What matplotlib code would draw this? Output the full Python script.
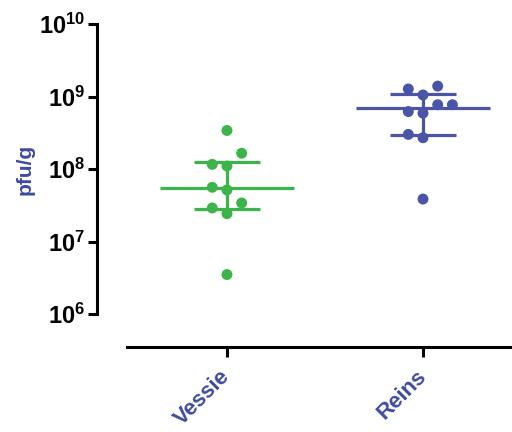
import numpy as np
import matplotlib
matplotlib.use("Agg")
import matplotlib.pyplot as plt
from matplotlib.ticker import FixedLocator, FuncFormatter, NullLocator

# ================================================  Data  ================================================

groups = ["Vessie", "Reins"]
vessie = [3.4e8, 1.65e8, 1.16e8, 1.10e8, 5.6e7, 5.13e7, 3.4e7, 2.9e7, 2.42e7, 3.5e6]
reins = [1.39e9, 1.27e9, 1.05e9, 7.7e8, 7.7e8, 6.2e8, 5.9e8, 3.0e8, 2.7e8, 3.85e7]
medians = [5.4e7, 6.9e8]
q_low = [2.8e7, 2.95e8]
q_high = [1.26e8, 1.07e9]
yticks = [1e6, 1e7, 1e8, 1e9, 1e10]

colors = ["#3cb44a", "#4a55a8"]
label_blue = "#3d4a9e"

# ================================================  Style  ================================================

plt.rcParams["font.family"] = ["Liberation Sans", "DejaVu Sans"]
plt.rcParams["mathtext.fontset"] = "custom"
plt.rcParams["mathtext.rm"] = "Liberation Sans"
plt.rcParams["mathtext.bf"] = "Liberation Sans:bold"


def swarm(values, center, step=0.075, gap=0.2):
    # simple greedy beeswarm in log space: try centre, then left, right, ...
    logs = np.log10(values)
    order = np.argsort(logs)
    placed = []
    xs = np.zeros(len(values))
    for i in order:
        for slot in [0, -1, 1, 2, -2, 3, -3]:
            if all(abs(logs[i] - l) >= gap for l, s in placed if s == slot):
                placed.append((logs[i], slot))
                xs[i] = center + slot * step
                break
    return xs


fig = plt.figure(figsize=(5.12, 4.32), dpi=100)
ax = fig.add_axes([127 / 512, (432 - 314) / 432, 385 / 512, 290 / 432])

for k, vals in enumerate([vessie, reins]):
    c = colors[k]
    ax.hlines(medians[k], k - 0.34, k + 0.34, color=c, lw=2.3, zorder=2)
    ax.vlines(k, q_low[k], q_high[k], color=c, lw=2.3, zorder=2)
    ax.hlines([q_low[k], q_high[k]], k - 0.17, k + 0.17, color=c, lw=2.3, zorder=2)
    ax.scatter(swarm(vals, k), vals, s=62, color=c, edgecolors="none", zorder=3)

ax.set_yscale("log")
ax.set_ylim(1e6, 1e10)
ax.set_xlim(-0.51, 1.454)

ax.yaxis.set_major_locator(FixedLocator(yticks))
ax.yaxis.set_minor_locator(NullLocator())
ax.yaxis.set_major_formatter(FuncFormatter(lambda v, p: r"$\mathbf{10^{%d}}$" % round(np.log10(v))))

for s in ["top", "right"]:
    ax.spines[s].set_visible(False)
ax.spines["left"].set_position(("outward", 21.6))
ax.spines["bottom"].set_position(("outward", 23.8))
for s in ["left", "bottom"]:
    ax.spines[s].set_linewidth(2.2)

ax.tick_params(axis="y", length=6.5, width=2.2, labelsize=17, pad=2)
ax.tick_params(axis="x", length=7.2, width=2.2, pad=12)

ax.set_xticks(range(len(groups)))
ax.set_xticklabels(groups)
plt.setp(ax.get_xticklabels(), rotation=45, ha="right", va="center", rotation_mode="anchor",
         fontsize=16, fontweight="bold", color=label_blue)

ax.set_ylabel("pfu/g", fontsize=15, fontweight="bold", color=label_blue, labelpad=3)

fig.savefig("out.png", dpi=100)
